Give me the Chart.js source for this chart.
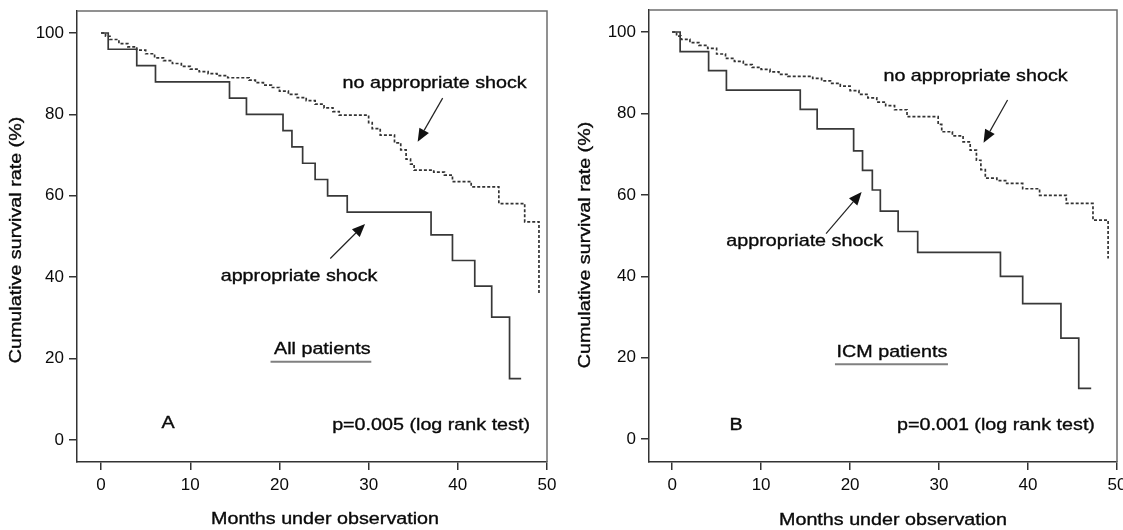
<!DOCTYPE html>
<html lang="en">
<head>
<meta charset="UTF-8">
<title>Survival curves</title>
<style>
    body { margin: 0; padding: 0; background: #ffffff; overflow: hidden; }
    .panel { position: absolute; top: 0; height: 530px; }
    #panelA { left: 0; width: 560px; }
    #panelB { left: 560px; width: 563px; }
</style>
</head>
<body>
<div class="panel" id="panelA"><canvas id="chartA" width="560" height="530"></canvas></div>
<div class="panel" id="panelB"><canvas id="chartB" width="563" height="530"></canvas></div>
<script src="https://cdn.jsdelivr.net/npm/chart.js@4.4.1/dist/chart.umd.min.js"></script>
<script>
// axis ticks
const xTicks = [0, 10, 20, 30, 40, 50];
const yTicks = [0, 20, 40, 60, 80, 100];

// Panel A - all patients
const monthsShockA = [0, 0.8, 4.0, 6.1, 14.4, 16.3, 20.4, 21.4, 22.6, 24.0, 25.4, 27.6, 37.0, 39.4, 41.9, 43.8, 45.8, 47.1];
const survShockA   = [100, 96, 92, 88, 84, 80, 76, 72, 68, 64, 60, 56, 50.4, 44.1, 37.8, 30.2, 15.1, 15.1];
const monthsNoShockA = [0, 0.5, 1, 2, 3, 4, 5, 6, 7, 8, 9, 10, 11, 12, 13, 14.2, 16.6, 17.3, 18.2, 19.1, 20, 21, 22, 23, 24, 25, 26, 26.7,
                        30.0, 30.4, 31.3, 32.9, 33.6, 34.2, 34.7, 35.1, 37.3, 38.5, 39.4, 41.5, 44.6, 47.5, 49.1];
const survNoShockA   = [100, 99.2, 98.4, 97.4, 96.6, 95.8, 94.9, 93.9, 93.2, 92.5, 91.8, 91.1, 90.5, 90.0, 89.5, 89.0, 88.4, 87.8, 87.2, 86.6, 85.7, 84.9, 84.1, 83.4, 82.5, 81.6, 80.7, 79.8,
                        78.0, 76.5, 74.9, 73.0, 71.3, 69.0, 67.8, 66.3, 65.8, 65.1, 63.5, 62.2, 58.1, 53.6, 35.6];

// Panel B - ICM patients
const monthsShockB = [0, 0.9, 4.1, 6.1, 14.4, 16.3, 20.4, 21.4, 22.5, 23.4, 25.4, 27.6, 36.9, 39.4, 43.7, 45.7, 47.1];
const survShockB   = [100, 95.2, 90.5, 85.7, 81.0, 76.2, 70.8, 66.0, 61.2, 56.0, 51.0, 45.9, 40.0, 33.3, 24.8, 12.5, 12.5];
const monthsNoShockB = [0, 0.5, 1, 2, 3, 4, 5, 6, 7, 8, 9, 10, 11, 12, 13, 15.8, 16.8, 17.8, 18.9, 20, 21, 22, 23, 24, 25, 26.4,
                        29.9, 30.3, 31.5, 32.7, 33.5, 34.2, 34.7, 35.2, 36.5, 37.6, 39.4, 41.3, 44.3, 47.3, 49.0];
const survNoShockB   = [100, 99.0, 98.2, 97.4, 96.7, 96.0, 94.6, 93.5, 92.8, 92.0, 91.3, 90.8, 90.2, 89.6, 89.1, 88.6, 88.0, 87.4, 86.7, 85.6, 84.7, 83.8, 82.8, 81.9, 80.9, 79.2,
                        77.3, 75.5, 74.5, 73.0, 71.0, 68.5, 66.2, 64.1, 63.5, 62.8, 61.5, 59.9, 57.9, 53.8, 44.4];

const FONT = 'Arial, "Liberation Sans", sans-serif';
Chart.defaults.font.family = FONT;
Chart.defaults.font.size = 17;
Chart.defaults.color = '#0a0a0a';

const toPoints = (xs, ys) => xs.map((m, i) => ({ x: m, y: ys[i] }));

// stretched text like the original scan
function drawText(ctx, text, px, py, rotate) {
    ctx.save();
    ctx.translate(px, py);
    if (rotate) ctx.rotate(-Math.PI / 2);
    ctx.scale(1.16, 1);
    ctx.font = '17px ' + FONT;
    ctx.fillStyle = '#0a0a0a';
    ctx.strokeStyle = '#0a0a0a';
    ctx.lineWidth = 0.35;
    ctx.textAlign = 'center';
    ctx.textBaseline = 'middle';
    ctx.fillText(text, 0, 0);
    ctx.strokeText(text, 0, 0);
    ctx.restore();
}

function drawArrow(ctx, x1, y1, x2, y2) {
    const ang = Math.atan2(y2 - y1, x2 - x1);
    const len = 13, half = 5.5;
    const bx = x2 - len * Math.cos(ang), by = y2 - len * Math.sin(ang);
    ctx.beginPath();
    ctx.moveTo(x1, y1);
    ctx.lineTo(bx, by);
    ctx.strokeStyle = '#222';
    ctx.lineWidth = 1.2;
    ctx.stroke();
    ctx.beginPath();
    ctx.moveTo(x2, y2);
    ctx.lineTo(bx + half * Math.sin(ang), by - half * Math.cos(ang));
    ctx.lineTo(bx - half * Math.sin(ang), by + half * Math.cos(ang));
    ctx.closePath();
    ctx.fillStyle = '#111';
    ctx.fill();
}

const overlay = {
    id: 'overlay',
    afterDraw(chart, args, o) {
        const { ctx, chartArea: a, scales: { x, y } } = chart;
        ctx.save();
        // top and right frame
        ctx.strokeStyle = '#6e6e6e';
        ctx.lineWidth = 1.5;
        ctx.beginPath();
        ctx.moveTo(a.left, a.top);
        ctx.lineTo(a.right, a.top);
        ctx.lineTo(a.right, a.bottom);
        ctx.stroke();

        o.notes.forEach(n => drawText(ctx, n.text, x.getPixelForValue(n.x), y.getPixelForValue(n.y)));
        o.arrows.forEach(r => drawArrow(ctx,
            x.getPixelForValue(r[0]), y.getPixelForValue(r[1]),
            x.getPixelForValue(r[2]), y.getPixelForValue(r[3])));

        // underline under the group label
        const u = o.underline;
        ctx.strokeStyle = '#808080';
        ctx.lineWidth = 2;
        ctx.beginPath();
        ctx.moveTo(x.getPixelForValue(u[0]), y.getPixelForValue(u[2]));
        ctx.lineTo(x.getPixelForValue(u[1]), y.getPixelForValue(u[2]));
        ctx.stroke();

        // axis titles
        drawText(ctx, 'Cumulative survival rate (%)', o.yTitle[0], o.yTitle[1], true);
        drawText(ctx, 'Months under observation', o.xTitle[0], o.xTitle[1], false);
        ctx.restore();
    }
};

function makePanel(id, shockX, shockY, noShockX, noShockY, p) {
    const axisStyle = {
        border: { display: true, color: '#333333', width: 1.5 },
        grid: { drawOnChartArea: false, drawTicks: true, tickLength: 8, color: '#333333', lineWidth: 1.5 }
    };
    return new Chart(document.getElementById(id), {
        type: 'line',
        data: {
            datasets: [
                {
                    label: 'appropriate shock',
                    data: toPoints(shockX, shockY),
                    stepped: true,
                    borderColor: '#383838',
                    borderWidth: 1.7,
                    pointRadius: 0,
                    fill: false
                },
                {
                    label: 'no appropriate shock',
                    data: toPoints(noShockX, noShockY),
                    stepped: true,
                    borderColor: '#333333',
                    borderWidth: 1.7,
                    borderDash: [3, 2],
                    pointRadius: 0,
                    fill: false
                }
            ]
        },
        options: {
            responsive: false,
            animation: false,
            devicePixelRatio: 1,
            layout: { padding: p.padding },
            plugins: {
                legend: { display: false },
                tooltip: { enabled: false },
                overlay: p.overlay
            },
            scales: {
                x: {
                    type: 'linear',
                    min: p.xMin,
                    max: 50,
                    ...axisStyle,
                    ticks: { padding: 5, maxRotation: 0 },
                    afterBuildTicks: s => { s.ticks = xTicks.map(v => ({ value: v })); },
                    afterFit: s => { s.height = 68; s.paddingLeft = 0; s.paddingRight = 0; }
                },
                y: {
                    type: 'linear',
                    min: p.yMin,
                    max: p.yMax,
                    ...axisStyle,
                    ticks: { padding: 5 },
                    afterBuildTicks: s => { s.ticks = yTicks.map(v => ({ value: v })); },
                    afterFit: s => { s.width = p.yWidth; s.paddingTop = 0; s.paddingBottom = 0; }
                }
            }
        },
        plugins: [overlay]
    });
}

makePanel('chartA', monthsShockA, survShockA, monthsNoShockA, survNoShockA, {
    padding: { top: 11, right: 13, left: 0, bottom: 0 },
    yWidth: 77, xMin: -2.7, yMin: -5.4, yMax: 105.4,
    overlay: {
        notes: [
            { text: 'no appropriate shock', x: 37.4, y: 87.7 },
            { text: 'appropriate shock', x: 22.2, y: 40.1 },
            { text: 'All patients', x: 24.8, y: 22.4 },
            { text: 'A', x: 7.5, y: 4.2 },
            { text: 'p=0.005 (log rank test)', x: 37.0, y: 3.7 }
        ],
        arrows: [[38.3, 84.0, 35.5, 73.3], [25.7, 44.6, 29.6, 53.1]],
        underline: [19.0, 30.3, 19.2],
        yTitle: [16.5, 240],
        xTitle: [325, 519]
    }
});

makePanel('chartB', monthsShockB, survShockB, monthsNoShockB, survNoShockB, {
    padding: { top: 10, right: 6, left: 0, bottom: 0 },
    yWidth: 89, xMin: -2.6, yMin: -5.6, yMax: 105.4,
    overlay: {
        notes: [
            { text: 'no appropriate shock', x: 34.1, y: 89.0 },
            { text: 'appropriate shock', x: 14.9, y: 48.5 },
            { text: 'ICM patients', x: 24.7, y: 21.4 },
            { text: 'B', x: 7.2, y: 3.4 },
            { text: 'p=0.001 (log rank test)', x: 36.4, y: 3.4 }
        ],
        arrows: [[37.7, 83.3, 35.0, 72.8], [17.3, 50.5, 21.3, 60.7]],
        underline: [18.3, 31.0, 18.4],
        yTitle: [25, 245],
        xTitle: [333, 520]
    }
});
</script>
</body>
</html>
